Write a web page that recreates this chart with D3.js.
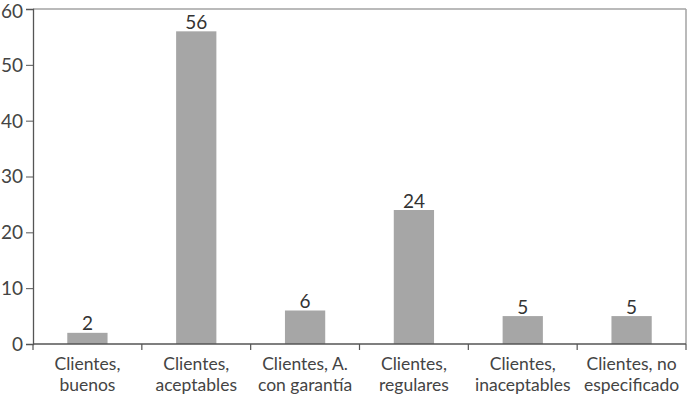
<!DOCTYPE html>
<html><head><meta charset="utf-8">
<script src="https://cdn.jsdelivr.net/npm/d3@7"></script>
<style>body{margin:0;background:#fff}</style>
</head><body>
<svg id="c" width="692" height="400"></svg>
<script>
const categories = [["Clientes,","buenos"],["Clientes,","aceptables"],["Clientes, A.","con garantía"],["Clientes,","regulares"],["Clientes,","inaceptables"],["Clientes, no","especificado"]];
const values = [2,56,6,24,5,5];
const yTicks = [0,10,20,30,40,50,60];

const svg = d3.select("#c");
const m = {l:33, r:686, t:9, b:344};
const font = "Lato, 'Open Sans', sans-serif";
const x = d3.scaleBand().domain(d3.range(values.length)).range([m.l, m.r]).paddingInner(0.63).paddingOuter(0.315);
const xb = d3.scaleBand().domain(d3.range(values.length)).range([m.l, m.r]);
const y = d3.scaleLinear().domain([0,60]).range([m.b, m.t]);

// frame top/right
svg.append("line").attr("x1",m.l).attr("x2",m.r).attr("y1",m.t).attr("y2",m.t).attr("stroke","#a3a3a3").attr("stroke-width",1.5);
svg.append("line").attr("x1",m.r).attr("x2",m.r).attr("y1",m.t).attr("y2",m.b).attr("stroke","#a3a3a3").attr("stroke-width",1.5);

svg.selectAll("rect.bar").data(values).join("rect").attr("class","bar")
  .attr("x",(d,i)=>x(i)).attr("width",x.bandwidth())
  .attr("y",d=>y(d)).attr("height",d=>y(0)-y(d)).attr("fill","#a6a6a6");

svg.selectAll("text.val").data(values).join("text").attr("class","val")
  .attr("x",(d,i)=>x(i)+x.bandwidth()/2).attr("y",d=>y(d)-2.5)
  .attr("text-anchor","middle").attr("font-family",font).attr("font-size",19).attr("fill","#333").text(d=>d);

// y axis
const ya = d3.axisLeft(y).tickValues(yTicks).tickSize(7).tickPadding(3);
const gy = svg.append("g").attr("transform",`translate(${m.l},0)`).call(ya);
gy.select(".domain").attr("stroke","#555").attr("stroke-width",1.3);
gy.selectAll(".tick line").attr("stroke","#555");
gy.selectAll(".tick text").attr("font-family",font).attr("font-size",19).attr("fill","#444")
  .attr("dy",d=> d===60 ? "0.45em" : "0.34em");

// x axis
svg.append("line").attr("x1",m.l).attr("x2",m.r).attr("y1",m.b).attr("y2",m.b).attr("stroke","#555").attr("stroke-width",1.3);
const bounds = d3.range(values.length+1).map(i=> i<values.length ? xb(i) : m.r);
svg.selectAll("line.xt").data(bounds).join("line").attr("class","xt")
  .attr("x1",d=>d).attr("x2",d=>d).attr("y1",m.b).attr("y2",m.b+6).attr("stroke","#555").attr("stroke-width",1.2);

const lab = svg.selectAll("text.cat").data(categories).join("text").attr("class","cat")
  .attr("text-anchor","middle").attr("font-family",font).attr("font-size",17.5).attr("fill","#444");
lab.each(function(d,i){
  const t = d3.select(this);
  d.forEach((s,j)=> t.append("tspan").attr("x",xb(i)+xb.bandwidth()/2).attr("y",370+j*20.5).text(s));
});
</script>
</body></html>
